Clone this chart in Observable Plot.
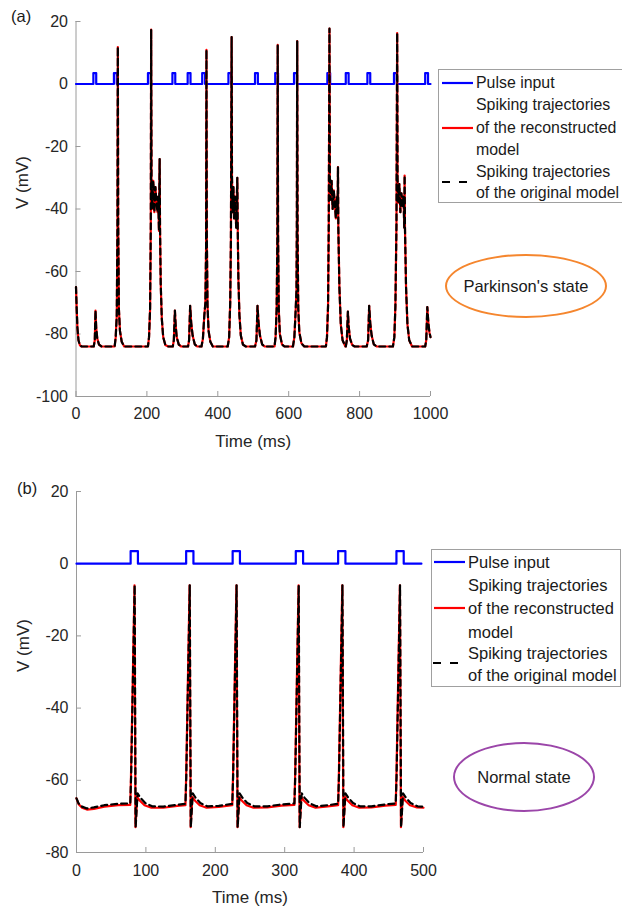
<!DOCTYPE html>
<html>
<head>
<meta charset="utf-8">
<script src="https://cdn.jsdelivr.net/npm/d3@7"></script>
<script src="https://cdn.jsdelivr.net/npm/@observablehq/plot@0.6"></script>
<style>
  body { margin: 0; background: #fff; }
  #page { position: relative; width: 622px; height: 917px; overflow: hidden; background: #fff;
          font-family: "Liberation Sans", Arial, sans-serif; color: #1a1a1a; }
  .panel { position: absolute; left: 0; }
  .box { position: absolute; border: 1px solid #a0a0a0; background: #fff; box-sizing: border-box; }
  .row { position: absolute; white-space: nowrap; font-size: 16.5px; line-height: 22px; }
  .sample { position: absolute; overflow: visible; }
  .ellipse { position: absolute; box-sizing: border-box; border-radius: 50%; border-style: solid; border-width: 2.5px;
             display: flex; align-items: center; justify-content: center; font-size: 16.5px; white-space: nowrap; }
  .tag { position: absolute; font-size: 16.5px; line-height: 22px; }
</style>
</head>
<body>
<div id="page"></div>
<script>
// ---------------- DATA ----------------
// Panel (a): Parkinson's state, time in ms, membrane potential in mV
const parkinsonXTicks = [0, 200, 400, 600, 800, 1000];
const parkinsonYTicks = [-100, -80, -60, -40, -20, 0, 20];
const parkinsonPulseStarts = [49, 107, 203, 272, 315, 356, 430, 505, 562, 615, 709, 761, 822, 897, 985];
const parkinsonPulseWidth = 8;
const parkinsonPulseHeight = 3.5;
const parkinsonTrace = [
  [0,-65],[2,-72],[4,-78],[7,-82],[11,-83.6],[16,-84],
  [50,-84],[53,-82],[55,-72.5],[57,-78],[60,-81.5],[65,-83.4],[72,-84],
  [109,-84],[112,-81],[115,-74],[117,-45],[118,11.8],[119,-45],[121,-72],[124,-79],[129,-82.5],[136,-84],
  [203,-84],[206,-81],[209,-72],[211,-45],[212,17.4],[213,-32],[215,-40],[218,-31],[221,-41],[224,-33],[227,-38],[230,-41],[232,-36],[234,-47],[236,-24],[237,-46],[239,-64],[242,-75],[246,-81],[252,-83.5],[260,-84],
  [273,-84],[276,-82],[279,-72.5],[281,-77],[284,-81],[290,-83.4],[297,-84],
  [316,-84],[319,-82],[322,-71],[325,-76.5],[329,-80.5],[335,-83.3],[342,-84],
  [354,-84],[358,-81.5],[362,-74],[365,-70],[367,-52],[368,10.9],[369,-48],[371,-71],[374,-79],[379,-82.5],[386,-84],
  [428,-84],[432,-81],[435,-70],[437,-50],[439,15],[440,-30],[442,-41],[444,-33],[446,-43],[448,-36],[450,-41],[452,-46],[454,-35],[455,-30],[456,-44],[458,-62],[461,-74],[465,-80.5],[471,-83.4],[479,-84],
  [505,-84],[509,-82],[512,-71],[515,-76.5],[519,-80.5],[525,-83.3],[532,-84],
  [560,-84],[563,-81],[566,-72],[568,-50],[569,12.5],[570,-48],[572,-72],[575,-80],[581,-83.3],[588,-84],
  [612,-84],[616,-81],[619,-74],[622,-66],[623,-45],[624,13.7],[625,-48],[627,-72],[630,-79.5],[636,-83],[644,-84],
  [705,-84],[708,-81],[711,-71],[713,-45],[715,17.7],[716,-30],[718,-37],[721,-31],[724,-40],[727,-34],[730,-38],[733,-43],[736,-36],[738,-41],[739,-26.6],[740,-46],[743,-65],[747,-77],[752,-82],[760,-84],
  [761,-84],[764,-82],[767,-72.8],[769,-77.5],[773,-81.5],[779,-83.5],[786,-84],
  [820,-84],[824,-82],[827,-71],[830,-76.5],[834,-80.5],[840,-83.3],[848,-84],
  [894,-84],[898,-81],[901,-71],[904,-45],[906,16.3],[907,-30],[909,-38],[912,-32],[915,-41],[918,-35],[921,-39],[924,-36],[926,-46],[927,-29.3],[928,-46],[931,-65],[935,-77],[940,-82],[948,-84],
  [985,-84],[988,-82],[991,-71.4],[994,-76.5],[997,-79.5],[1000,-81]
];

// Panel (b): Normal state
const normalXTicks = [0, 100, 200, 300, 400, 500];
const normalYTicks = [-80, -60, -40, -20, 0, 20];
const normalPulseStarts = [78, 158, 225, 316, 377, 461];
const normalPulseWidth = 10.5;
const normalPulseHeight = 3.5;
const normalRed = [
  [0,-65],[3,-66.6],[8,-67.6],[15,-68.1],[25,-67.9],[40,-67.3],[60,-66.9],[77.5,-66.8],
  [78.5,-59],[83.6,-6],[85,-73],[87.5,-64.6],[91,-65.6],[98,-66.9],[108,-67.6],[125,-67.6],[145,-67.1],[157,-66.9],
  [158,-59],[163,-6],[164.5,-73],[167,-64.6],[170.5,-65.6],[177.5,-66.9],[187.5,-67.6],[205,-67.4],[224.5,-66.9],
  [225.5,-59],[230.5,-6],[232,-73],[234.5,-64.6],[238,-65.6],[245,-66.9],[255,-67.6],[275,-67.5],[295,-67],[314,-66.8],
  [315,-59],[320,-6],[321.5,-73],[324,-64.6],[327.5,-65.6],[334.5,-66.9],[344.5,-67.6],[362,-67.2],[377,-66.9],
  [378,-59],[383,-6],[384.5,-73],[387,-64.6],[390.5,-65.6],[397.5,-66.9],[407.5,-67.6],[425,-67.5],[445,-67],[460,-66.8],
  [461,-59],[466,-6],[467.5,-73],[470,-64.6],[473.5,-65.6],[480.5,-66.9],[490.5,-67.5],[500,-67.6]
];
const normalBlack = [
  [0,-65],[3,-66.4],[8,-67.3],[15,-67.8],[25,-67.5],[40,-66.9],[60,-66.5],[77.5,-66.4],
  [78.7,-59],[83.8,-6],[85.2,-73],[88,-63.6],[92,-64.8],[99,-66.3],[109,-67.2],[125,-67.3],[145,-66.8],[157,-66.5],
  [158.2,-59],[163.2,-6],[164.7,-73],[167.5,-63.6],[171.5,-64.8],[178.5,-66.3],[188.5,-67.2],[205,-67.1],[224.5,-66.5],
  [225.7,-59],[230.7,-6],[232.2,-73],[235,-63.6],[239,-64.8],[246,-66.3],[256,-67.2],[275,-67.2],[295,-66.7],[314,-66.4],
  [315.2,-59],[320.2,-6],[321.7,-73],[324.5,-63.6],[328.5,-64.8],[335.5,-66.3],[345.5,-67.2],[362,-66.9],[377,-66.5],
  [378.2,-59],[383.2,-6],[384.7,-73],[387.5,-63.6],[391.5,-64.8],[398.5,-66.3],[408.5,-67.2],[425,-67.2],[445,-66.7],[460,-66.4],
  [461.2,-59],[466.2,-6],[467.7,-73],[470.5,-63.6],[474.5,-64.8],[481.5,-66.3],[491.5,-67.2],[500,-67.3]
];

const legendLines = ["Pulse input", "Spiking trajectories", "of the reconstructed", "model", "Spiking trajectories", "of the original model"];
const axisTitleX = "Time (ms)";
const axisTitleY = "V (mV)";

// ---------------- HELPERS ----------------
const toPoints = arr => arr.map(([t, v]) => ({t, v}));
function pulseTable(starts, w, h, end) {
  const pts = [{t: 0, v: 0}];
  for (const s of starts) pts.push({t: s, v: 0}, {t: s, v: h}, {t: s + w, v: h}, {t: s + w, v: 0});
  pts.push({t: end, v: 0});
  return pts;
}

const AXIS = "#9a9a9a";
const TXT = "#262626";
const fmt = d => String(d);

function panel(cfg) {
  return Plot.plot({
    width: 622, height: cfg.height,
    marginLeft: cfg.mL, marginRight: cfg.mR, marginTop: cfg.mT, marginBottom: cfg.mB,
    x: {domain: cfg.xDomain},
    y: {domain: cfg.yDomain},
    style: {fontFamily: '"Liberation Sans", Arial, sans-serif', background: "transparent", overflow: "visible", color: TXT},
    marks: [
      Plot.ruleY([cfg.yDomain[0]], {stroke: AXIS, strokeWidth: 1}),
      Plot.ruleX([cfg.xDomain[0]], {stroke: AXIS, strokeWidth: 1}),
      Plot.axisX(cfg.xTicks, {tickSize: -5, tickPadding: cfg.xPad, stroke: AXIS, fill: TXT, fontSize: 16, label: null, tickFormat: fmt}),
      Plot.axisY(cfg.yTicks, {tickSize: -5, tickPadding: 13, stroke: AXIS, fill: TXT, fontSize: 16, label: null, tickFormat: fmt}),
      Plot.line(cfg.pulses, {x: "t", y: "v", stroke: "#0000ff", strokeWidth: 2.2, strokeLinejoin: "round"}),
      Plot.line(cfg.red, {x: "t", y: "v", stroke: "#ff0000", strokeWidth: 2.2}),
      Plot.line(cfg.black, {x: "t", y: "v", stroke: "#000000", strokeWidth: 2.2, strokeDasharray: "6,4"}),
      Plot.text([axisTitleX], {text: d => d, frameAnchor: "bottom", dy: 50, fontSize: 17, fill: TXT}),
      Plot.text([axisTitleY], {text: d => d, frameAnchor: "left", rotate: -90, dx: -53, fontSize: 17, fill: TXT})
    ]
  });
}

const page = document.getElementById("page");
function place(el, top) {
  const wrap = document.createElement("div");
  wrap.className = "panel";
  wrap.style.top = top + "px";
  wrap.appendChild(el);
  page.appendChild(wrap);
}

const parkinsonPts = toPoints(parkinsonTrace);
place(panel({
  height: 458, mL: 75.5, mR: 192, mT: 21, mB: 62,
  xDomain: [0, 1000], yDomain: [-100, 20], xTicks: parkinsonXTicks, yTicks: parkinsonYTicks, xPad: 16,
  pulses: pulseTable(parkinsonPulseStarts, parkinsonPulseWidth, parkinsonPulseHeight, 1000),
  red: parkinsonPts, black: parkinsonPts
}), 0);

place(panel({
  height: 459, mL: 76, mR: 199, mT: 33, mB: 65,
  xDomain: [0, 500], yDomain: [-80, 20], xTicks: normalXTicks, yTicks: normalYTicks, xPad: 17,
  pulses: pulseTable(normalPulseStarts, normalPulseWidth, normalPulseHeight, 497),
  red: toPoints(normalRed), black: toPoints(normalBlack)
}), 458);

// ---------------- LEGENDS & ANNOTATIONS ----------------
function legend(L) {
  const box = document.createElement("div");
  box.className = "box";
  Object.assign(box.style, {left: L.left + "px", top: L.top + "px", width: L.width + "px", height: L.height + "px"});
  page.appendChild(box);
  legendLines.forEach((txt, i) => {
    const r = document.createElement("div");
    r.className = "row";
    r.textContent = txt;
    r.style.left = L.textX + "px";
    r.style.top = (L.rows[i] - 11) + "px";
    r.style.fontSize = L.font + "px";
    page.appendChild(r);
  });
  const samples = [
    {y: L.rows[0], x1: L.sx1, x2: L.sx2, color: "#0000ff", dash: null},
    {y: L.rows[2], x1: L.sx1, x2: L.sx2, color: "#ff0000", dash: null},
    {y: L.dashY, x1: L.dx1, x2: L.dx1 + 25, color: "#000000", dash: "8,9"}
  ];
  samples.forEach(s => {
    const svg = document.createElementNS("http://www.w3.org/2000/svg", "svg");
    svg.setAttribute("class", "sample");
    svg.setAttribute("width", s.x2 - s.x1);
    svg.setAttribute("height", 6);
    svg.style.left = s.x1 + "px";
    svg.style.top = (s.y - 3) + "px";
    const ln = document.createElementNS("http://www.w3.org/2000/svg", "line");
    ln.setAttribute("x1", 0); ln.setAttribute("x2", s.x2 - s.x1);
    ln.setAttribute("y1", 3); ln.setAttribute("y2", 3);
    ln.setAttribute("stroke", s.color); ln.setAttribute("stroke-width", 2.2);
    if (s.dash) ln.setAttribute("stroke-dasharray", s.dash);
    svg.appendChild(ln);
    page.appendChild(svg);
  });
}
legend({left: 438, top: 69, width: 220, height: 134, textX: 476, rows: [83, 105, 127.5, 150, 172, 192.5],
        sx1: 442, sx2: 473, dx1: 442, dashY: 182, font: 15.9});
legend({left: 431, top: 549, width: 190, height: 138, textX: 468, rows: [562, 585, 607.5, 631.5, 653, 675],
        sx1: 434, sx2: 465, dx1: 433, dashY: 663, font: 16.5});

function ellipse(text, cx, cy, rx, ry, color) {
  const e = document.createElement("div");
  e.className = "ellipse";
  e.textContent = text;
  Object.assign(e.style, {left: (cx - rx) + "px", top: (cy - ry) + "px", width: 2 * rx + "px", height: 2 * ry + "px", borderColor: color});
  page.appendChild(e);
}
ellipse("Parkinson's state", 526, 286, 81, 32, "#f5862e");
ellipse("Normal state", 524, 777, 71, 35, "#9b46a9");

function tag(text, x, y) {
  const t = document.createElement("div");
  t.className = "tag";
  t.textContent = text;
  t.style.left = x + "px";
  t.style.top = (y - 11) + "px";
  page.appendChild(t);
}
tag("(a)", 11, 16);
tag("(b)", 17, 488);
</script>
</body>
</html>
